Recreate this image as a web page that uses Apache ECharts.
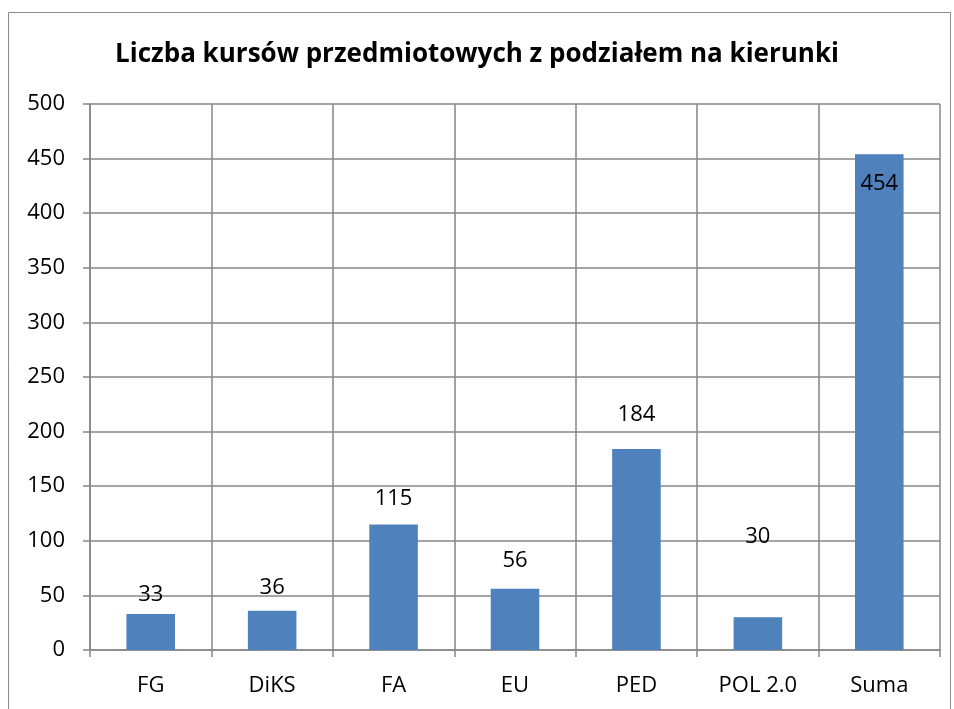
<!DOCTYPE html>
<html><head><meta charset="utf-8">
<script src="https://cdn.jsdelivr.net/npm/echarts@6/dist/echarts.min.js"></script>
<style>html,body{margin:0;padding:0;background:#fff}#c{width:954px;height:709px}</style>
</head><body><div id="c"></div>
<script>
const titleText = 'Liczba kursów przedmiotowych z podziałem na kierunki';
const categories = ['FG', 'DiKS', 'FA', 'EU', 'PED', 'POL 2.0', 'Suma'];
const values = [33, 36, 115, 56, 184, 30, 454];
// vertical shift (px) of each data label relative to its default top position
const labelShift = [-3, -7, -10, -12, -18, -65, 0];

const chart = echarts.init(document.getElementById('c'), null, {renderer: 'canvas'});
const FONT = '"Open Sans", "Liberation Sans", sans-serif';
const data = values.map((v, i) => {
  if (i === values.length - 1) {
    return {value: v, label: {position: 'insideTop', offset: [0, 14]}};
  }
  return {value: v, label: {position: 'top', offset: [0, labelShift[i]]}};
});
chart.setOption({
  animation: false,
  title: {
    text: titleText, left: 'center', top: 37,
    textStyle: {fontFamily: FONT, fontWeight: 'bold', fontSize: 26, color: '#000'}
  },
  graphic: [{type: 'rect', shape: {x: 8.5, y: 12.5, width: 942, height: 720},
    style: {fill: null, stroke: '#8c8c8c', lineWidth: 1}, silent: true}],
  grid: {left: 90, right: 14, top: 104, bottom: 59, containLabel: false},
  xAxis: {
    type: 'category', data: categories,
    axisLine: {lineStyle: {color: '#868686', width: 1.5}},
    axisTick: {show: true, length: 7, alignWithLabel: false, lineStyle: {color: '#868686', width: 1.5}},
    splitLine: {show: true, lineStyle: {color: '#868686', width: 1.5}},
    axisLabel: {fontFamily: FONT, fontSize: 22, color: '#000', margin: 25}
  },
  yAxis: {
    type: 'value', min: 0, max: 500, interval: 50,
    axisLine: {show: true, lineStyle: {color: '#868686', width: 1.5}},
    axisTick: {show: true, length: 7, lineStyle: {color: '#868686', width: 1.5}},
    splitLine: {show: true, lineStyle: {color: '#868686', width: 1.5}},
    axisLabel: {fontFamily: FONT, fontSize: 22, color: '#000', margin: 25}
  },
  series: [{
    type: 'bar', data: data, barWidth: '40%',
    itemStyle: {color: '#4F81BD'},
    label: {show: true, fontFamily: FONT, fontSize: 22, color: '#000'}
  }]
});
</script></body></html>
